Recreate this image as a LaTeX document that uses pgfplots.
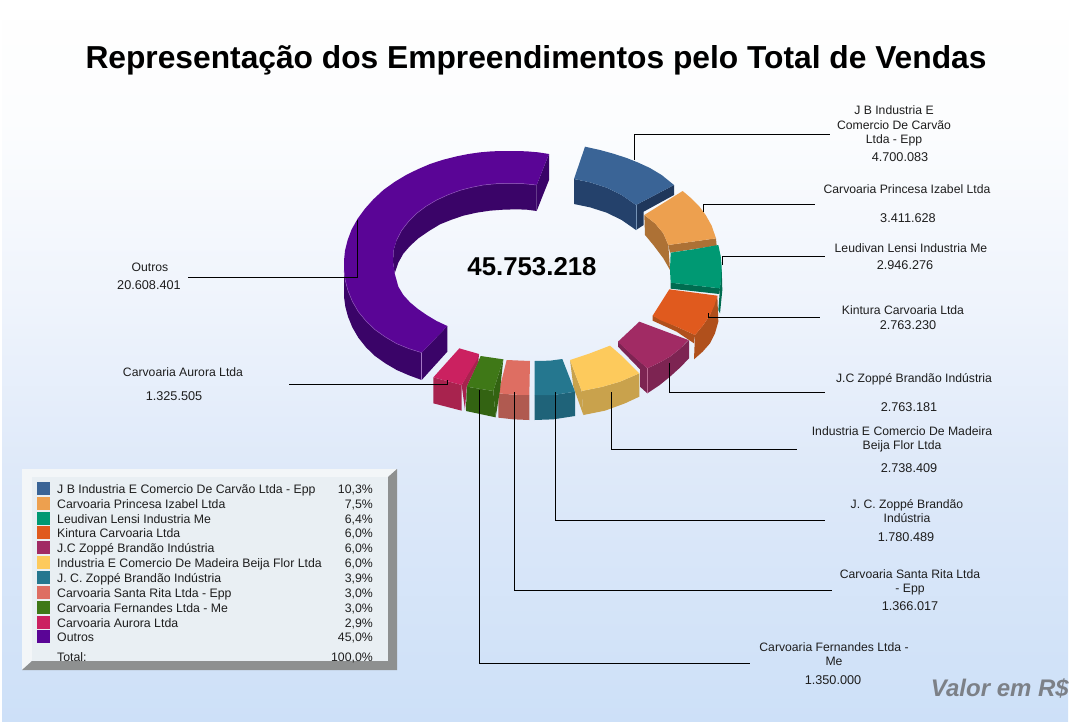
\documentclass[border=0pt]{standalone}
\usepackage{fontspec}
\setmainfont{Liberation Sans}
\usepackage{pgfplots}
\pgfplotsset{compat=1.18}
\definecolor{bg0}{HTML}{CDE0F8}
\definecolor{bg1}{HTML}{DEE9F9}
\definecolor{bg2}{HTML}{EFF4FC}
\definecolor{bg3}{HTML}{FCFDFE}
\definecolor{bg4}{HTML}{FEFEFE}
\pgfdeclareverticalshading{bgshade}{100bp}{
  color(0bp)=(bg0); color(25bp)=(bg0); color(42.9bp)=(bg1); color(55bp)=(bg2); color(67.9bp)=(bg3); color(75bp)=(bg4); color(100bp)=(bg4)}
\definecolor{panL}{HTML}{F3F6F8}
\definecolor{panF}{HTML}{E9EFF3}
\definecolor{panD}{HTML}{8E9090}
\definecolor{cA}{HTML}{3A6496}\definecolor{dA}{HTML}{24416B}
\definecolor{cB}{HTML}{EDA04F}\definecolor{dB}{HTML}{AD7135}
\definecolor{cC}{HTML}{009973}\definecolor{dC}{HTML}{006C50}
\definecolor{cD}{HTML}{E05A1E}\definecolor{dD}{HTML}{B0501C}
\definecolor{cE}{HTML}{A12B64}\definecolor{dE}{HTML}{7D2452}
\definecolor{cF}{HTML}{FDCA5C}\definecolor{dF}{HTML}{C9A24C}
\definecolor{cG}{HTML}{25778F}\definecolor{dG}{HTML}{1F6379}
\definecolor{cH}{HTML}{DE6E62}\definecolor{dH}{HTML}{B05A50}
\definecolor{cI}{HTML}{3F7817}\definecolor{dI}{HTML}{336312}
\definecolor{cJ}{HTML}{CB2160}\definecolor{dJ}{HTML}{A8234E}
\definecolor{cK}{HTML}{5A0596}\definecolor{dK}{HTML}{3A0468}
\definecolor{txt}{HTML}{1E1E1E}
\definecolor{valor}{HTML}{7C8087}
% a polygon given in the coordinates of the 3x crop of the chart (x-330)*3, (y-130)*3
\newcommand{\poly}[2]{\addplot[fill=#1,draw=none,forget plot,x filter/.expression={330+x/3},y filter/.expression={130+y/3}] coordinates {#2} -- cycle;}
\newcommand{\edge}[2]{\addplot[#1,line width=0.5pt,forget plot,x filter/.expression={330+x/3},y filter/.expression={130+y/3}] coordinates {#2};}
\newcommand{\lead}[1]{\addplot[black,line width=0.9pt,forget plot] coordinates {#1};}
\newcommand{\sq}[3]{\addplot[fill=#1,draw=none,forget plot] coordinates {(37,#2) (50,#2) (50,#3) (37,#3)} -- cycle;}
\newcommand{\lab}[3]{\node[anchor=base,yshift=-4.4pt,font=\fontsize{12.2}{14}\selectfont,text=txt,inner sep=0pt] at (axis cs:#1,#2) {#3};}
\newcommand{\labn}[3]{\node[anchor=base,yshift=-4.4pt,font=\fontsize{12.7}{14}\selectfont,text=txt,inner sep=0pt] at (axis cs:#1,#2) {#3};}
\newcommand{\legrow}[3]{\node[anchor=base west,yshift=-4.4pt,font=\fontsize{12.3}{14}\selectfont,text=txt,inner sep=0pt] at (axis cs:57,#1) {#2};
 \node[anchor=base east,yshift=-4.4pt,font=\fontsize{12.3}{14}\selectfont,text=txt,inner sep=0pt] at (axis cs:373,#1) {#3};}
\begin{document}
\begin{tikzpicture}
\begin{axis}[at={(0pt,0pt)},anchor=south west,scale only axis,width=1072pt,height=721pt,
  xmin=0,xmax=1072,ymin=0,ymax=721,y dir=reverse,hide axis,clip=true]
% background
\fill[white] (axis cs:0,0) rectangle (axis cs:1072,721);
\shade[shading=bgshade] (axis cs:2,20) rectangle (axis cs:1068,721);
% legend panel
\addplot[fill=panL,draw=none,forget plot] coordinates {(22,469) (397,469) (388,477) (32,477) (32,661) (22,670)} -- cycle;
\addplot[fill=panD,draw=none,forget plot] coordinates {(397,469) (397,670) (22,670) (32,661) (388,661) (388,477)} -- cycle;
\addplot[fill=panF,draw=none,forget plot] coordinates {(32,477) (388,477) (388,661) (32,661)} -- cycle;
\sq{cA}{482}{495}\sq{cB}{497}{510}\sq{cC}{512}{525}\sq{cD}{526}{539}\sq{cE}{541}{554}\sq{cF}{556}{569}
\sq{cG}{571}{584}\sq{cH}{586}{599}\sq{cI}{601}{614}\sq{cJ}{616}{629}\sq{cK}{630}{643}
% Outros
\poly{dK}{(657,72)(657,150)(620,243)(620,165)}
\poly{dK}{(620,165)(580,161)(540,160)(500,161)(460,165)(425,172)(390,181)(355,194)(320,210)(288,229)(260,250)(236,274)(215,301)(200,330)(191,360)(189,395)(194,430)(205,398)(220,371)(240,348)(265,325)(297,303)(330,283)(365,269)(400,257)(440,248)(480,242)(520,239)(560,238)(590,239)(620,243)}
\poly{dK}{(42,392)(42,422)(46,452)(54,482)(67,514)(85,545)(108,573)(135,599)(166,621)(200,641)(237,656)(275,668)(352,588)(352,665)(275,750)(237,736)(200,720)(166,700)(135,678)(108,652)(85,623)(67,592)(54,560)(46,530)(42,500)(42,460)}
\poly{cK}{(657,72)(625,67)(590,64)(555,63)(520,63)(485,64)(450,67)(415,72)(380,79)(340,89)(300,102)(265,117)(230,134)(195,155)(160,180)(130,208)(105,236)(83,266)(65,298)(53,330)(45,362)(42,392)(42,422)(46,452)(54,482)(67,514)(85,545)(108,573)(135,599)(166,621)(200,641)(237,656)(275,668)(352,588)(320,573)(290,555)(264,537)(240,517)(220,495)(205,470)(194,430)(189,395)(191,360)(200,330)(215,301)(236,274)(260,250)(288,229)(320,210)(355,194)(390,181)(425,172)(460,165)(500,161)(540,160)(580,161)(620,165)}
\edge{cK!55!white}{(275,668)(275,750)}
\edge{cK!70!white}{(42,422)(46,452)(54,482)(67,514)(85,545)(108,573)(135,599)(166,621)(200,641)(237,656)(275,668)}
\edge{cK!70!white}{(200,330)(215,301)(236,274)(260,250)(288,229)(320,210)(355,194)(390,181)(425,172)(460,165)(500,161)(540,160)(580,161)(620,165)}
% blue
\poly{dA}{(732,147)(780,157)(830,173)(875,195)(918,225)(918,300)(875,270)(830,248)(780,232)(732,222)}
\poly{dA!85!black}{(918,225)(1032,165)(1032,195)(941,245)(941,285)(918,300)}
\poly{cA}{(765,50)(810,60)(850,71)(890,84)(925,98)(960,114)(995,135)(1032,165)(918,225)(875,195)(830,173)(780,157)(732,147)}
\edge{cA!70!white}{(918,225)(918,300)}
% orange
\poly{dB}{(943,255)(975,280)(1000,310)(1015,345)(1020,420)(1000,385)(970,345)(945,315)}
\poly{dB}{(1015,345)(1158,325)(1160,347)(1020,368)}
\poly{cB}{(1058,183)(1085,206)(1107,228)(1127,255)(1145,287)(1158,325)(1015,345)(1000,310)(975,280)(943,255)}
% green
\poly{dC}{(1175,410)(1177,480)(1170,550)(1165,540)(1170,475)}
\poly{dC}{(1022,458)(1170,475)(1168,492)(1022,476)}
\poly{cC}{(1022,368)(1090,358)(1165,345)(1172,378)(1175,410)(1174,442)(1170,475)(1022,458)(1020,420)}
% orange-red
\poly{dD}{(1162,497)(1165,575)(1155,610)(1140,640)(1118,665)(1092,688)(1095,615)(1120,585)(1140,555)}
\poly{dD}{(968,557)(1040,590)(1095,615)(1092,640)(1040,605)(968,572)}
\poly{cD}{(1018,478)(1162,497)(1153,527)(1140,555)(1120,585)(1095,615)(1040,590)(990,570)(968,557)}
% plum
\poly{dE}{(864,635)(952,715)(952,790)(930,770)(930,718)(864,650)}
\poly{dE}{(952,715)(988,698)(1020,680)(1050,656)(1077,630)(1077,685)(1050,713)(1020,740)(988,766)(952,790)}
\poly{cE}{(928,575)(1075,630)(1050,656)(1020,680)(988,698)(952,715)(900,670)(864,635)}
\edge{cE!70!white}{(952,715)(952,790)}
% yellow
\poly{dF}{(720,690)(755,783)(760,855)(730,770)}
\poly{dF}{(755,783)(815,771)(870,755)(928,730)(928,800)(885,820)(825,842)(760,855)}
\poly{cF}{(840,647)(878,680)(928,730)(870,755)(815,771)(755,783)(720,690)(780,670)}
% teal
\poly{dG}{(614,795)(670,795)(735,785)(735,858)(670,868)(614,870)}
\poly{cG}{(614,693)(660,692)(697,687)(735,785)(670,795)(614,795)}
% salmon
\poly{dH}{(505,790)(550,794)(598,795)(598,870)(550,868)(505,863)}
\poly{cH}{(530,690)(600,693)(598,795)(550,794)(505,790)}
% green
\poly{dI}{(520,688)(490,783)(497,862)(510,780)}
\poly{dI}{(410,770)(490,783)(497,862)(408,843)}
\poly{cI}{(452,678)(520,688)(490,783)(410,770)}
% crimson
\poly{dJ}{(447,672)(395,765)(405,840)(410,770)(445,695)}
\poly{dJ}{(310,742)(395,765)(395,842)(310,820)}
\poly{cJ}{(388,655)(447,672)(440,690)(395,765)(310,742)}
% leaders
\lead{(634,160)(634,134)(830,134)}
\lead{(703,212)(703,204)(815,204)}
\lead{(722,265)(722,256)(825,256)}
\lead{(708,313)(708,317)(820,317)}
\lead{(669,363)(669,392)(825,392)}
\lead{(611,392)(611,449)(797,449)}
\lead{(555,392)(555,520)(825,520)}
\lead{(514,392)(514,590)(832,590)}
\lead{(479,390)(479,663)(750,663)}
\lead{(447,380)(447,384)(289,384)}
\lead{(357,220)(357,277)(188,277)}
% title and texts
\node[font=\fontsize{31.75}{36}\bfseries\selectfont,inner sep=0pt,text=black] at (axis cs:536,60.5) {Representação dos Empreendimentos pelo Total de Vendas};
\node[font=\fontsize{25.8}{30}\bfseries\selectfont,inner sep=0pt,text=black] at (axis cs:532,267) {45.753.218};
\node[font=\fontsize{24}{28}\bfseries\itshape\selectfont,inner sep=0pt,text=valor,anchor=east] at (axis cs:1069,688) {Valor em R\$};
\lab{894}{110}{J B Industria E}\lab{894}{125}{Comercio De Carvão}\lab{894}{139}{Ltda - Epp}\labn{900}{157}{4.700.083}
\lab{907}{189}{Carvoaria Princesa Izabel Ltda}\labn{908}{218}{3.411.628}
\lab{911}{248}{Leudivan Lensi Industria Me}\labn{905}{265}{2.946.276}
\lab{903}{310}{Kintura Carvoaria Ltda}\labn{908}{325}{2.763.230}
\lab{914}{378}{J.C Zoppé Brandão Indústria}\labn{909}{407}{2.763.181}
\lab{902}{431}{Industria E Comercio De Madeira}\lab{902}{445}{Beija Flor Ltda}\labn{909}{468}{2.738.409}
\lab{907}{504}{J. C. Zoppé Brandão}\lab{907}{518}{Indústria}\labn{906}{537}{1.780.489}
\lab{910}{574}{Carvoaria Santa Rita Ltda}\lab{910}{588}{- Epp}\labn{910}{606}{1.366.017}
\lab{834}{647}{Carvoaria Fernandes Ltda -}\lab{834}{661}{Me}\labn{833}{680}{1.350.000}
\lab{183}{372}{Carvoaria Aurora Ltda}\labn{174}{396}{1.325.505}
\lab{150}{267}{Outros}\labn{149}{285}{20.608.401}
\legrow{488.7}{J B Industria E Comercio De Carvão Ltda - Epp}{10,3\%}
\legrow{503.7}{Carvoaria Princesa Izabel Ltda}{7,5\%}
\legrow{518.7}{Leudivan Lensi Industria Me}{6,4\%}
\legrow{532.7}{Kintura Carvoaria Ltda}{6,0\%}
\legrow{547.7}{J.C Zoppé Brandão Indústria}{6,0\%}
\legrow{562.7}{Industria E Comercio De Madeira Beija Flor Ltda}{6,0\%}
\legrow{577.7}{J. C. Zoppé Brandão Indústria}{3,9\%}
\legrow{592.7}{Carvoaria Santa Rita Ltda - Epp}{3,0\%}
\legrow{607.7}{Carvoaria Fernandes Ltda - Me}{3,0\%}
\legrow{622.7}{Carvoaria Aurora Ltda}{2,9\%}
\legrow{636.7}{Outros}{45,0\%}
\legrow{656.7}{Total:}{100,0\%}
\end{axis}
\end{tikzpicture}
\end{document}
